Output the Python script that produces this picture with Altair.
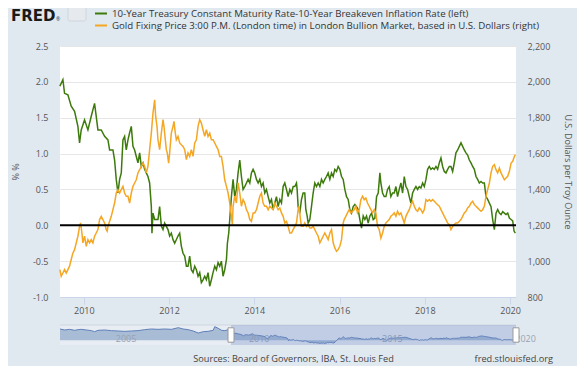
import altair as alt
import pandas as pd

# ---------------- data ----------------
GREEN_YEARS = [
    2009.437, 2009.508, 2009.547, 2009.625, 2009.703, 2009.782, 2009.860, 2009.899, 2009.938, 2010.016,
    2010.095, 2010.173, 2010.251, 2010.290, 2010.330, 2010.408, 2010.486, 2010.565, 2010.604, 2010.682,
    2010.721, 2010.760, 2010.799, 2010.839, 2010.878, 2010.917, 2010.956, 2010.995, 2011.035, 2011.074,
    2011.113, 2011.152, 2011.191, 2011.230, 2011.269, 2011.309, 2011.348, 2011.387, 2011.426, 2011.465,
    2011.504, 2011.543, 2011.583, 2011.598, 2011.622, 2011.661, 2011.739, 2011.778, 2011.818, 2011.857,
    2011.896, 2011.974, 2012.013, 2012.052, 2012.092, 2012.131, 2012.209, 2012.248, 2012.287, 2012.327,
    2012.366, 2012.405, 2012.444, 2012.483, 2012.522, 2012.562, 2012.601, 2012.640, 2012.679, 2012.718,
    2012.757, 2012.796, 2012.836, 2012.875, 2012.914, 2012.953, 2012.992, 2013.031, 2013.071, 2013.110,
    2013.149, 2013.188, 2013.227, 2013.266, 2013.305, 2013.345, 2013.368, 2013.399, 2013.423, 2013.462,
    2013.501, 2013.540, 2013.579, 2013.619, 2013.658, 2013.697, 2013.736, 2013.775, 2013.815, 2013.854,
    2013.893, 2013.932, 2013.971, 2014.010, 2014.050, 2014.089, 2014.128, 2014.167, 2014.206, 2014.245,
    2014.284, 2014.324, 2014.363, 2014.402, 2014.441, 2014.480, 2014.519, 2014.559, 2014.598, 2014.637,
    2014.676, 2014.715, 2014.754, 2014.793, 2014.833, 2014.872, 2014.911, 2014.950, 2014.989, 2015.004,
    2015.028, 2015.067, 2015.106, 2015.145, 2015.184, 2015.208, 2015.239, 2015.263, 2015.302, 2015.341,
    2015.380, 2015.419, 2015.458, 2015.498, 2015.537, 2015.576, 2015.615, 2015.654, 2015.693, 2015.732,
    2015.772, 2015.811, 2015.850, 2015.889, 2015.928, 2015.967, 2016.006, 2016.046, 2016.085, 2016.124,
    2016.163, 2016.202, 2016.241, 2016.281, 2016.320, 2016.359, 2016.398, 2016.437, 2016.476, 2016.515,
    2016.555, 2016.594, 2016.633, 2016.672, 2016.711, 2016.750, 2016.790, 2016.829, 2016.868, 2016.907,
    2016.946, 2016.969, 2017.009, 2017.048, 2017.087, 2017.126, 2017.165, 2017.204, 2017.244, 2017.283,
    2017.322, 2017.361, 2017.400, 2017.439, 2017.479, 2017.518, 2017.557, 2017.596, 2017.635, 2017.674,
    2017.714, 2017.753, 2017.792, 2017.831, 2017.870, 2017.909, 2017.949, 2017.988, 2018.027, 2018.066,
    2018.105, 2018.144, 2018.184, 2018.223, 2018.262, 2018.301, 2018.340, 2018.379, 2018.418, 2018.457,
    2018.497, 2018.536, 2018.575, 2018.614, 2018.653, 2018.692, 2018.731, 2018.771, 2018.810, 2018.849,
    2018.888, 2018.927, 2018.966, 2019.005, 2019.045, 2019.084, 2019.123, 2019.162, 2019.201, 2019.240,
    2019.280, 2019.319, 2019.358, 2019.397, 2019.436, 2019.475, 2019.515, 2019.554, 2019.593, 2019.632,
    2019.671, 2019.710, 2019.750, 2019.789, 2019.828, 2019.867, 2019.906, 2019.945, 2019.985, 2020.024,
    2020.063, 2020.094, 2020.125,
]
GREEN_VALUES = [
    1.94, 2.03, 1.84, 1.82, 1.66, 1.59, 1.38, 1.15, 1.33, 1.47,
    1.33, 1.52, 1.70, 1.52, 1.33, 1.33, 1.24, 1.19, 1.05, 1.05,
    0.91, 0.64, 0.45, 0.64, 0.73, 1.19, 1.24, 1.05, 1.19, 1.29,
    1.38, 1.10, 1.05, 0.96, 0.87, 1.01, 0.82, 0.87, 0.78, 0.73,
    0.68, 0.59, 0.26, -0.11, 0.17, 0.08, 0.08, 0.26, -0.01, -0.06,
    0.03, -0.06, -0.15, -0.11, -0.20, -0.25, -0.15, -0.11, -0.29, -0.39,
    -0.43, -0.57, -0.57, -0.43, -0.62, -0.66, -0.57, -0.62, -0.71, -0.66,
    -0.80, -0.76, -0.71, -0.76, -0.66, -0.85, -0.76, -0.66, -0.57, -0.62,
    -0.52, -0.57, -0.50, -0.71, -0.62, -0.48, -0.25, -0.11, 0.08, 0.40,
    0.64, 0.40, 0.50, 0.73, 0.91, 0.68, 0.50, 0.54, 0.59, 0.64,
    0.59, 0.73, 0.78, 0.73, 0.64, 0.59, 0.64, 0.54, 0.59, 0.45,
    0.50, 0.40, 0.31, 0.36, 0.22, 0.31, 0.40, 0.26, 0.36, 0.31,
    0.54, 0.59, 0.50, 0.40, 0.50, 0.45, 0.54, 0.54, 0.59, 0.50,
    0.26, 0.17, 0.36, 0.45, 0.45, 0.22, 0.13, 0.03, 0.08, 0.26,
    0.45, 0.59, 0.54, 0.59, 0.54, 0.64, 0.59, 0.64, 0.68, 0.73,
    0.64, 0.73, 0.68, 0.78, 0.75, 0.82, 0.78, 0.68, 0.64, 0.50,
    0.40, 0.36, 0.22, 0.17, 0.26, 0.29, 0.26, 0.22, 0.08, -0.04,
    0.13, 0.08, 0.13, 0.03, 0.13, 0.17, 0.08, 0.10, 0.40, 0.45,
    0.73, 0.59, 0.45, 0.40, 0.40, 0.50, 0.54, 0.40, 0.45, 0.45,
    0.54, 0.40, 0.50, 0.59, 0.45, 0.68, 0.54, 0.50, 0.40, 0.31,
    0.45, 0.50, 0.54, 0.50, 0.54, 0.52, 0.59, 0.54, 0.64, 0.78,
    0.82, 0.78, 0.80, 0.78, 0.82, 0.78, 0.87, 0.94, 0.82, 0.75,
    0.73, 0.78, 0.82, 0.82, 0.75, 0.87, 1.01, 1.05, 1.10, 1.15,
    1.10, 1.05, 1.01, 0.98, 0.91, 0.87, 0.82, 0.78, 0.68, 0.64,
    0.59, 0.61, 0.59, 0.59, 0.40, 0.36, 0.31, 0.26, 0.08, -0.06,
    0.17, 0.22, 0.17, 0.15, 0.19, 0.17, 0.15, 0.17, 0.10, 0.08,
    0.06, -0.08, -0.11,
]

GOLD_YEARS = [
    2009.437, 2009.469, 2009.508, 2009.547, 2009.586, 2009.625, 2009.664, 2009.703, 2009.743, 2009.782,
    2009.821, 2009.860, 2009.899, 2009.923, 2009.954, 2009.977, 2010.016, 2010.056, 2010.095, 2010.134,
    2010.173, 2010.212, 2010.251, 2010.290, 2010.330, 2010.369, 2010.408, 2010.447, 2010.486, 2010.525,
    2010.548, 2010.565, 2010.604, 2010.643, 2010.682, 2010.721, 2010.760, 2010.799, 2010.839, 2010.878,
    2010.917, 2010.956, 2010.995, 2011.035, 2011.074, 2011.113, 2011.152, 2011.191, 2011.230, 2011.269,
    2011.309, 2011.348, 2011.387, 2011.426, 2011.465, 2011.504, 2011.543, 2011.583, 2011.622, 2011.661,
    2011.685, 2011.716, 2011.739, 2011.778, 2011.818, 2011.857, 2011.880, 2011.911, 2011.935, 2011.958,
    2011.989, 2012.013, 2012.052, 2012.092, 2012.115, 2012.146, 2012.170, 2012.209, 2012.248, 2012.287,
    2012.327, 2012.366, 2012.405, 2012.444, 2012.483, 2012.522, 2012.562, 2012.601, 2012.640, 2012.679,
    2012.718, 2012.757, 2012.796, 2012.836, 2012.875, 2012.914, 2012.953, 2012.992, 2013.031, 2013.071,
    2013.110, 2013.149, 2013.188, 2013.227, 2013.266, 2013.305, 2013.345, 2013.384, 2013.423, 2013.462,
    2013.485, 2013.501, 2013.540, 2013.579, 2013.619, 2013.658, 2013.697, 2013.736, 2013.775, 2013.815,
    2013.854, 2013.893, 2013.932, 2013.971, 2014.010, 2014.050, 2014.089, 2014.128, 2014.167, 2014.206,
    2014.245, 2014.284, 2014.324, 2014.363, 2014.402, 2014.441, 2014.480, 2014.519, 2014.559, 2014.598,
    2014.637, 2014.676, 2014.715, 2014.754, 2014.793, 2014.833, 2014.871, 2014.910, 2014.949, 2014.989,
    2015.028, 2015.051, 2015.083, 2015.106, 2015.145, 2015.184, 2015.224, 2015.263, 2015.302, 2015.341,
    2015.380, 2015.419, 2015.458, 2015.498, 2015.537, 2015.576, 2015.615, 2015.654, 2015.693, 2015.732,
    2015.772, 2015.811, 2015.850, 2015.889, 2015.928, 2015.967, 2016.006, 2016.046, 2016.085, 2016.108,
    2016.147, 2016.186, 2016.226, 2016.265, 2016.304, 2016.343, 2016.382, 2016.421, 2016.461, 2016.500,
    2016.539, 2016.578, 2016.617, 2016.656, 2016.695, 2016.735, 2016.774, 2016.813, 2016.852, 2016.891,
    2016.930, 2016.970, 2017.009, 2017.048, 2017.087, 2017.126, 2017.165, 2017.204, 2017.244, 2017.283,
    2017.322, 2017.361, 2017.400, 2017.439, 2017.479, 2017.518, 2017.557, 2017.596, 2017.635, 2017.674,
    2017.714, 2017.753, 2017.792, 2017.831, 2017.870, 2017.909, 2017.949, 2017.988, 2018.027, 2018.066,
    2018.105, 2018.144, 2018.184, 2018.223, 2018.262, 2018.301, 2018.340, 2018.379, 2018.418, 2018.457,
    2018.497, 2018.536, 2018.575, 2018.614, 2018.653, 2018.692, 2018.731, 2018.771, 2018.810, 2018.849,
    2018.888, 2018.927, 2018.966, 2019.005, 2019.045, 2019.084, 2019.123, 2019.162, 2019.201, 2019.240,
    2019.280, 2019.319, 2019.358, 2019.397, 2019.436, 2019.475, 2019.515, 2019.554, 2019.593, 2019.632,
    2019.671, 2019.710, 2019.750, 2019.789, 2019.828, 2019.867, 2019.906, 2019.945, 2019.985, 2020.024,
    2020.063, 2020.102, 2020.125,
]
GOLD_VALUES = [
    953, 916, 934, 953, 934, 953, 972, 1009, 1046, 1064,
    1102, 1139, 1194, 1213, 1157, 1102, 1139, 1083, 1120, 1102,
    1120, 1102, 1139, 1157, 1176, 1232, 1250, 1232, 1213, 1176,
    1167, 1194, 1222, 1250, 1287, 1324, 1380, 1399, 1380, 1399,
    1417, 1380, 1362, 1362, 1324, 1380, 1417, 1436, 1454, 1492,
    1510, 1529, 1547, 1529, 1492, 1529, 1622, 1714, 1826, 1900,
    1807, 1752, 1677, 1622, 1714, 1789, 1752, 1677, 1622, 1603,
    1547, 1603, 1714, 1752, 1780, 1714, 1677, 1696, 1659, 1649,
    1640, 1622, 1566, 1603, 1584, 1622, 1584, 1659, 1677, 1752,
    1789, 1770, 1733, 1696, 1733, 1696, 1714, 1677, 1677, 1659,
    1640, 1622, 1584, 1584, 1529, 1454, 1417, 1380, 1324, 1250,
    1204, 1306, 1362, 1324, 1436, 1380, 1306, 1343, 1324, 1287,
    1269, 1232, 1222, 1269, 1269, 1287, 1324, 1362, 1380, 1324,
    1306, 1306, 1287, 1306, 1297, 1287, 1324, 1306, 1287, 1297,
    1269, 1250, 1213, 1222, 1194, 1157, 1157, 1176, 1194, 1213,
    1287, 1306, 1232, 1194, 1194, 1213, 1194, 1204, 1185, 1185,
    1194, 1176, 1157, 1139, 1102, 1120, 1139, 1157, 1139, 1120,
    1157, 1176, 1102, 1074, 1055, 1064, 1083, 1120, 1213, 1232,
    1250, 1269, 1287, 1269, 1278, 1287, 1306, 1269, 1287, 1343,
    1362, 1343, 1352, 1324, 1306, 1287, 1269, 1287, 1269, 1194,
    1176, 1129, 1157, 1194, 1213, 1222, 1232, 1250, 1259, 1269,
    1250, 1278, 1259, 1269, 1241, 1213, 1250, 1269, 1287, 1315,
    1334, 1306, 1287, 1278, 1297, 1287, 1269, 1287, 1343, 1334,
    1343, 1334, 1343, 1334, 1324, 1315, 1306, 1287, 1269, 1250,
    1232, 1213, 1204, 1176, 1194, 1204, 1213, 1213, 1222, 1232,
    1250, 1269, 1278, 1297, 1306, 1324, 1334, 1315, 1306, 1297,
    1287, 1278, 1287, 1306, 1362, 1399, 1436, 1492, 1529, 1538,
    1510, 1492, 1519, 1492, 1473, 1454, 1464, 1473, 1501, 1547,
    1557, 1584, 1594,
]

# earlier part of the left series, visible only in the navigator strip
NAV_EARLY_YEARS = [
    2003.02, 2003.20, 2003.38, 2003.57, 2003.70, 2003.82, 2004.01, 2004.20, 2004.32, 2004.45,
    2004.70, 2004.95, 2005.20, 2005.45, 2005.70, 2005.95, 2006.20, 2006.45, 2006.70, 2006.95,
    2007.21, 2007.46, 2007.64, 2007.83, 2008.02, 2008.21, 2008.40, 2008.58, 2008.77, 2008.83,
    2008.96, 2009.09, 2009.21, 2009.34,
]
NAV_EARLY_VALUES = [
    2.94, 2.68, 2.85, 2.59, 2.77, 2.85, 2.68, 2.51, 2.25, 2.59,
    2.68, 2.51, 2.42, 2.33, 2.42, 2.51, 2.77, 2.94, 2.85, 2.94,
    2.85, 3.28, 2.94, 2.77, 2.42, 1.90, 2.25, 2.33, 2.59, 3.54,
    3.11, 2.59, 2.51, 2.77,
]

X_TICKS = [2010, 2012, 2014, 2016, 2018, 2020]
LEFT_TICKS = [-1.0, -0.5, 0.0, 0.5, 1.0, 1.5, 2.0, 2.5]
RIGHT_TICKS = [800, 1000, 1200, 1400, 1600, 1800, 2000, 2200]
NAV_LABELS = [2005, 2010, 2015, 2020]
X_DOMAIN = [2009.44, 2020.14]
NAV_DOMAIN = [2003.02, 2020.14]
SELECTION = [2009.44, 2020.14]
LEGEND = [
    "10-Year Treasury Constant Maturity Rate-10-Year Breakeven Inflation Rate (left)",
    "Gold Fixing Price 3:00 P.M. (London time) in London Bullion Market, based in U.S. Dollars (right)",
]
LEFT_TITLE = "% %"
RIGHT_TITLE = "U.S. Dollars per Troy Ounce"
SOURCES = "Sources: Board of Governors, IBA, St. Louis Fed"
SITE = "fred.stlouisfed.org"

# ---------------- styling ----------------
GREEN = "#3d7a0c"
GOLD = "#f5a623"
BG = "#e1e9f0"
LABEL = "#555555"
W, H = 456, 251

green_df = pd.DataFrame({"year": GREEN_YEARS, "value": GREEN_VALUES})
gold_df = pd.DataFrame({"year": GOLD_YEARS, "value": GOLD_VALUES})
nav_df = pd.DataFrame({"year": NAV_EARLY_YEARS + GREEN_YEARS,
                       "value": NAV_EARLY_VALUES + GREEN_VALUES})
sel_df = pd.DataFrame({"start": [SELECTION[0]], "end": [SELECTION[1]]})
handle_df = pd.DataFrame({"year": SELECTION})
navlab_df = pd.DataFrame({"year": NAV_LABELS, "label": [str(v) for v in NAV_LABELS]})
dummy = pd.DataFrame({"d": [0]})

x_main = alt.Scale(domain=X_DOMAIN, nice=False, zero=False)
y_left = alt.Scale(domain=[-1, 2.5], nice=False, zero=False)
y_right = alt.Scale(domain=[800, 2200], nice=False, zero=False)
x_nav = alt.Scale(domain=NAV_DOMAIN, nice=False, zero=False)
y_nav = alt.Scale(domain=[-1.2, 3.97], range=[299, 279], nice=False, zero=False)

green_line = alt.Chart(green_df).mark_line(color=GREEN, strokeWidth=1.5).encode(
    x=alt.X("year:Q", scale=x_main,
            axis=alt.Axis(values=X_TICKS, format="d", grid=False, title=None,
                          domainColor="#ccd6eb", tickColor="#ccd6eb", tickSize=7,
                          labelPadding=2, labelFontSize=9, labelColor=LABEL,
                          labelFlush=False)),
    y=alt.Y("value:Q", scale=y_left,
            axis=alt.Axis(orient="left", values=LEFT_TICKS,
                          labelExpr="replace(format(datum.value, '.1f'), '\u2212', '-')",
                          grid=True, gridColor="#e6e6e6", domain=False, ticks=False,
                          labelPadding=12, labelFontSize=9, labelColor=LABEL,
                          title=LEFT_TITLE, titleFontSize=9, titleFontWeight="normal",
                          titleColor=LABEL, titleX=-45, titleY=125.5, titleAngle=270,
                          titleAlign="center", titleBaseline="middle")),
)

gold_line = alt.Chart(gold_df).mark_line(color=GOLD, strokeWidth=1.5).encode(
    x=alt.X("year:Q", scale=x_main, axis=None),
    y=alt.Y("value:Q", scale=y_right,
            axis=alt.Axis(orient="right", values=RIGHT_TICKS, format=",.0f",
                          grid=False, domain=False, ticks=False,
                          labelPadding=11, labelFontSize=9, labelColor=LABEL,
                          title=RIGHT_TITLE, titleFontSize=9, titleFontWeight="normal",
                          titleColor=LABEL, titleX=51.5, titleY=125.5, titleAngle=90,
                          titleAlign="center", titleBaseline="middle")),
)

zero_rule = alt.Chart(dummy).mark_rule(color="black", strokeWidth=2).encode(
    y=alt.YDatum(0, type="quantitative", scale=y_left, axis=None),
)

# ---------------- navigator strip ----------------
nav_bg = alt.Chart(dummy).mark_rect(fill="#e8edf4").encode(
    x=alt.value(0), x2=alt.value(W), y=alt.value(279), y2=alt.value(299))
nav_top = alt.Chart(dummy).mark_rule(color="#cfd6de", strokeWidth=1).encode(
    x=alt.value(0), x2=alt.value(W), y=alt.value(279))
nav_area = alt.Chart(nav_df).mark_area(
    color="#8da6c9", line={"color": "#5f80b8", "strokeWidth": 1}).encode(
    x=alt.X("year:Q", scale=x_nav, axis=None),
    y=alt.Y("value:Q", scale=y_nav, axis=None),
    y2=alt.value(299),
)
nav_labels = alt.Chart(navlab_df).mark_text(
    align="left", baseline="middle", dx=3, fontSize=9, color="#9aa3b0").encode(
    x=alt.X("year:Q", scale=x_nav, axis=None), y=alt.value(293), text="label:N")
nav_mask = alt.Chart(sel_df).mark_rect(fill="#6685c2", opacity=0.3).encode(
    x=alt.X("start:Q", scale=x_nav, axis=None), x2="end:Q",
    y=alt.value(279), y2=alt.value(299))
nav_handles = alt.Chart(handle_df).mark_point(
    shape="M-0.5,-1.2H0.5V1.2H-0.5Z", size=144, filled=True, fill="white",
    stroke="#999999", strokeWidth=1, opacity=1).encode(
    x=alt.X("year:Q", scale=x_nav, axis=None), y=alt.value(289))
navigator = alt.layer(nav_bg, nav_top, nav_area, nav_labels, nav_mask, nav_handles)

# ---------------- header, legend, footer ----------------
fred = alt.Chart(dummy).mark_text(
    text="FRED", font="DejaVu Sans", fontSize=15, fontWeight="bold",
    align="left", baseline="alphabetic", color="#1a1a1a").encode(
    x=alt.value(-49), y=alt.value(-25))
reg = alt.Chart(dummy).mark_text(
    text="\u00ae", fontSize=5, align="left", baseline="alphabetic", color="#333333").encode(
    x=alt.value(-4), y=alt.value(-25))
icon = alt.Chart(dummy).mark_rect(
    fill="#e6eaee", stroke="#cfd5db", cornerRadius=2).encode(
    x=alt.value(8), x2=alt.value(26), y=alt.value(-40), y2=alt.value(-25))
leg1_line = alt.Chart(dummy).mark_rule(color=GREEN, strokeWidth=2).encode(
    x=alt.value(35), x2=alt.value(47), y=alt.value(-32.5))
leg2_line = alt.Chart(dummy).mark_rule(color=GOLD, strokeWidth=2).encode(
    x=alt.value(35), x2=alt.value(47), y=alt.value(-20.5))
leg1_text = alt.Chart(dummy).mark_text(
    text=LEGEND[0], align="left", baseline="middle", fontSize=9.7, color="#333333").encode(
    x=alt.value(52), y=alt.value(-32))
leg2_text = alt.Chart(dummy).mark_text(
    text=LEGEND[1], align="left", baseline="middle", fontSize=9.7, color="#333333").encode(
    x=alt.value(52), y=alt.value(-20))
sources = alt.Chart(dummy).mark_text(
    text=SOURCES, align="center", baseline="middle", fontSize=9.2, color="#444444").encode(
    x=alt.value(233.5), y=alt.value(312.5))
site = alt.Chart(dummy).mark_text(
    text=SITE, align="right", baseline="middle", fontSize=9.2, color="#444444").encode(
    x=alt.value(493), y=alt.value(312.5))

chart = alt.layer(
    green_line, gold_line, zero_rule, navigator,
    fred, reg, icon, leg1_line, leg2_line, leg1_text, leg2_text, sources, site,
).resolve_scale(
    x="independent", y="independent"
).properties(
    width=W, height=H,
    padding={"left": 52, "top": 38, "right": 61, "bottom": 69},
    autosize=alt.AutoSizeParams(type="none"),
    background=BG,
).configure(
    font="Open Sans"
).configure_view(
    fill="white", stroke="white", strokeWidth=0
)

chart.save("out.html", embed_options={"renderer": "svg", "actions": False})
